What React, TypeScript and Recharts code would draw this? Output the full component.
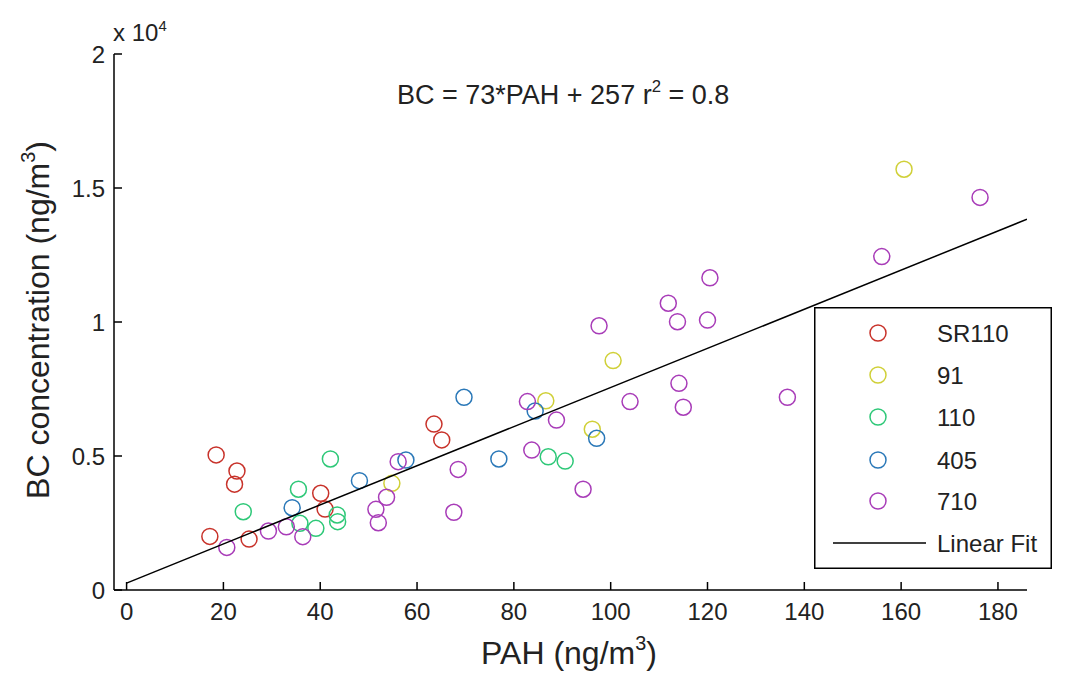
import React from 'react';
import { ScatterChart, Scatter, XAxis, YAxis, Legend } from 'recharts';

// PAH (ng/m3) vs BC (ng/m3), one pair of arrays per freeway
const sr110X = [18.5, 22.8, 22.3, 17.2, 25.3, 40.1, 41.0, 63.5, 65.1];
const sr110Y = [5040, 4440, 3950, 2000, 1900, 3610, 3020, 6190, 5600];

const hw91X = [54.8, 86.6, 96.2, 100.5, 160.6];
const hw91Y = [3980, 7060, 6000, 8560, 15700];

const hw110X = [42.1, 35.5, 24.1, 35.8, 39.1, 43.5, 43.6, 87.1, 90.6];
const hw110Y = [4890, 3760, 2920, 2490, 2300, 2800, 2550, 4970, 4810];

const hw405X = [48.1, 34.2, 69.7, 76.9, 57.7, 97.1, 84.4];
const hw405Y = [4080, 3070, 7190, 4890, 4850, 5660, 6680];

const hw710X = [20.7, 29.3, 36.4, 33.0, 53.7, 51.5, 52.0, 56.1, 68.5, 67.6, 82.8, 88.8, 83.7, 94.3,
  97.6, 111.9, 113.8, 120.0, 120.5, 114.1, 115.0, 104.0, 136.5, 156.0, 176.3];
const hw710Y = [1590, 2200, 1990, 2360, 3460, 3010, 2510, 4790, 4500, 2900, 7030, 6340, 5220, 3760,
  9860, 10700, 10010, 10070, 11650, 7710, 6820, 7030, 7190, 12440, 14650];

// BC = 73*PAH + 257
const fitSlope = 73;
const fitIntercept = 257;
const fitX = [0, 186];

const xTicks = [0, 20, 40, 60, 80, 100, 120, 140, 160, 180];
const yTicks = [0, 5000, 10000, 15000, 20000];

const toPoints = (xs: number[], ys: number[]) => xs.map((x, i) => ({ x, y: ys[i] }));

const series = [
  { name: 'SR110', color: '#c8322a', data: toPoints(sr110X, sr110Y) },
  { name: '91', color: '#d0d038', data: toPoints(hw91X, hw91Y) },
  { name: '110', color: '#2ec878', data: toPoints(hw110X, hw110Y) },
  { name: '405', color: '#2a78b8', data: toPoints(hw405X, hw405Y) },
  { name: '710', color: '#a83cb8', data: toPoints(hw710X, hw710Y) },
];

const fitData = fitX.map((x) => ({ x, y: fitSlope * x + fitIntercept }));

const FONT = '"Liberation Sans", Arial, sans-serif';
const TICK_MARGIN = 12;

const XTick = (props: any) => {
  const { x, y, payload } = props;
  const axisY = y - TICK_MARGIN;
  return (
    <g>
      <line x1={x} x2={x} y1={axisY} y2={axisY - 8} stroke="#000" strokeWidth={1.5} />
      <text x={x} y={axisY + 30} textAnchor="middle" fontSize={24} fontFamily={FONT} fill="#222">
        {payload.value}
      </text>
    </g>
  );
};

const YTick = (props: any) => {
  const { x, y, payload } = props;
  const axisX = x + TICK_MARGIN;
  return (
    <g>
      <line x1={axisX} x2={axisX + 8} y1={y} y2={y} stroke="#000" strokeWidth={1.5} />
      <text x={axisX - 9} y={y} dy="0.36em" textAnchor="end" fontSize={24} fontFamily={FONT} fill="#222">
        {payload.value / 10000}
      </text>
    </g>
  );
};

const renderLegend = () => {
  const rows = [26, 68, 110, 153, 194];
  return (
    <svg width={238} height={262} style={{ display: 'block' }}>
      <rect x={0.75} y={0.75} width={236.5} height={260.5} fill="#fff" stroke="#000" strokeWidth={1.5} />
      {series.map((s, i) => (
        <g key={s.name}>
          <circle cx={64} cy={rows[i]} r={8} fill="none" stroke={s.color} strokeWidth={1.5} />
          <text x={123} y={rows[i]} dy="0.36em" fontSize={24} fontFamily={FONT} fill="#222">
            {s.name}
          </text>
        </g>
      ))}
      <line x1={19} x2={112} y1={236} y2={236} stroke="#000" strokeWidth={1.5} />
      <text x={123} y={236} dy="0.36em" fontSize={24} fontFamily={FONT} fill="#222">
        Linear Fit
      </text>
    </svg>
  );
};

const supStyle: React.CSSProperties = { fontSize: '0.62em', position: 'relative', top: '-0.7em' };

export default function App() {
  return (
    <div style={{ position: 'absolute', left: 0, top: 0, width: 1078, height: 688, background: '#fff', fontFamily: FONT }}>
      <ScatterChart width={1078} height={688} margin={{ top: 54, right: 51, bottom: 58, left: 54 }}>
        <XAxis
          type="number"
          dataKey="x"
          domain={[-2.6, 186]}
          ticks={xTicks}
          allowDataOverflow
          height={40}
          tickSize={0}
          tickMargin={TICK_MARGIN}
          tickLine={false}
          axisLine={{ stroke: '#000', strokeWidth: 1.5 }}
          tick={(p: any) => <XTick {...p} />}
        />
        <YAxis
          type="number"
          dataKey="y"
          domain={[0, 20000]}
          ticks={yTicks}
          allowDataOverflow
          width={60}
          tickSize={0}
          tickMargin={TICK_MARGIN}
          tickLine={false}
          axisLine={{ stroke: '#000', strokeWidth: 1.5 }}
          tick={(p: any) => <YTick {...p} />}
        />
        {series.map((s) => (
          <Scatter
            key={s.name}
            name={s.name}
            data={s.data}
            isAnimationActive={false}
            shape={(p: any) => (
              <circle cx={p.cx} cy={p.cy} r={8} fill="none" stroke={s.color} strokeWidth={1.5} />
            )}
          />
        ))}
        <Scatter
          name="Linear Fit"
          data={fitData}
          isAnimationActive={false}
          line={{ stroke: '#000', strokeWidth: 1.5 }}
          shape={() => <g />}
        />
        <Legend
          layout="vertical"
          align="center"
          verticalAlign="middle"
          content={renderLegend}
          wrapperStyle={{ left: 814, top: 307, width: 238, height: 262 }}
        />
      </ScatterChart>

      <div style={{ position: 'absolute', left: 397, top: 82, fontSize: 27, lineHeight: 1, whiteSpace: 'nowrap', color: '#222' }}>
        BC = 73*PAH + 257 r<span style={supStyle}>2</span> = 0.8
      </div>
      <div style={{ position: 'absolute', left: 113, top: 21, fontSize: 24, lineHeight: 1, whiteSpace: 'nowrap', color: '#222' }}>
        x 10<span style={supStyle}>4</span>
      </div>
      <div
        style={{
          position: 'absolute', left: 569, top: 653, transform: 'translate(-50%, -50%)',
          fontSize: 32, lineHeight: 1, whiteSpace: 'nowrap', color: '#222',
        }}
      >
        PAH (ng/m<span style={supStyle}>3</span>)
      </div>
      <div
        style={{
          position: 'absolute', left: 38, top: 320, transform: 'translate(-50%, -50%) rotate(-90deg)',
          fontSize: 32, lineHeight: 1, whiteSpace: 'nowrap', color: '#222',
        }}
      >
        BC concentration (ng/m<span style={supStyle}>3</span>)
      </div>
    </div>
  );
}
